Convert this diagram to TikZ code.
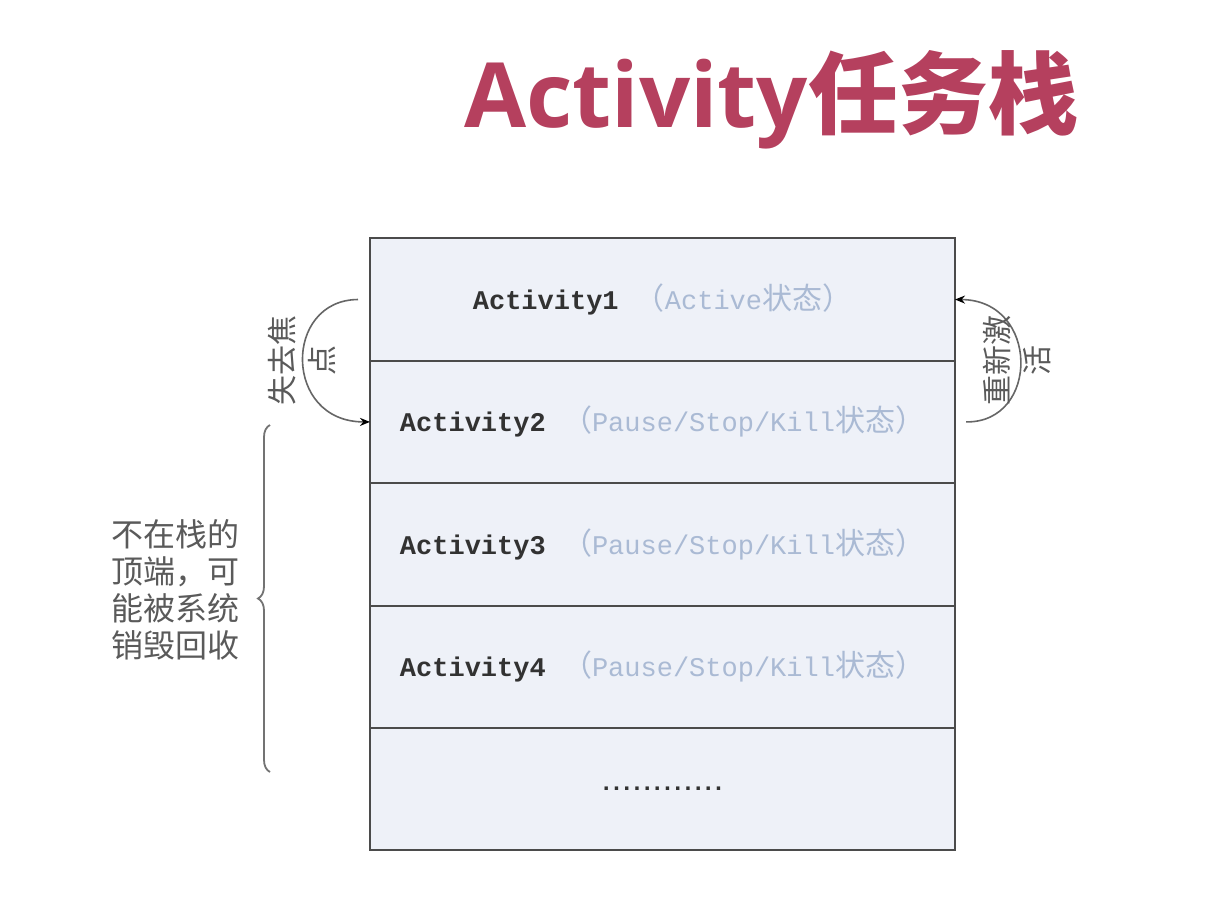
\documentclass[tikz,border=0pt]{standalone}
\usepackage{fontspec}
\usetikzlibrary{arrows.meta,decorations.pathreplacing}
\newfontfamily\cjk{Noto Sans CJK SC}
\newfontfamily\monofnt{Liberation Mono}
\newfontfamily\titlelatin{Open Sans}
\definecolor{titlered}{RGB}{181,64,94}
\definecolor{rowfill}{RGB}{238,241,248}
\definecolor{rowline}{RGB}{75,75,75}
\definecolor{statecol}{RGB}{170,186,212}
\definecolor{namecol}{RGB}{50,50,50}
\definecolor{notecol}{RGB}{90,90,90}
\newcommand{\statetext}[1]{\textcolor{statecol}{{\cjk\fontsize{30}{32}\selectfont （}#1{\cjk\fontsize{30}{32}\selectfont 状态）}}}
\newcommand{\onedot}{\makebox[10.2pt]{.}}
\newcommand{\dotrow}{\onedot\onedot\onedot\onedot\onedot\onedot\onedot\onedot\onedot\onedot\onedot\onedot}
\begin{document}
\begin{tikzpicture}[x=1pt,y=-1pt,
  stackrow/.style={draw=rowline,line width=2pt,fill=rowfill,minimum width=585pt,minimum height=122.4pt,
    inner sep=0pt,outer sep=0pt,font=\fontsize{27}{32}\selectfont\monofnt},
  turnarc/.style={draw=black!60,line width=1.6pt,-{Stealth[length=10pt,width=8pt,color=black]}},
  sidenote/.style={text=notecol,font=\cjk\fontsize{30}{40}\selectfont,rotate=90,align=center,inner sep=0pt},
  leftnote/.style={text=notecol,font=\cjk\fontsize{32}{37}\selectfont,align=left,inner sep=0pt},
  groupbrace/.style={draw=black!55,line width=1.8pt,decorate,decoration={brace,amplitude=12pt}}]
\useasboundingbox[fill=white] (0,0) rectangle (1214,914);

% title
\node[anchor=base west,inner sep=0pt,text=titlered] (title) at (464,127)
  {\fontsize{90}{98}\selectfont{\titlelatin\bfseries Activity}{\cjk\bfseries 任务栈}};

% the stack of activities
\node[stackrow] (r1) at (662.5,299.5) {\textcolor{namecol}{\bfseries Activity1} \statetext{Active}};
\node[stackrow,anchor=north] (r2) at (r1.south) {\textcolor{namecol}{\bfseries Activity2} \statetext{Pause/Stop/Kill}};
\node[stackrow,anchor=north] (r3) at (r2.south) {\textcolor{namecol}{\bfseries Activity3} \statetext{Pause/Stop/Kill}};
\node[stackrow,anchor=north] (r4) at (r3.south) {\textcolor{namecol}{\bfseries Activity4} \statetext{Pause/Stop/Kill}};
\node[stackrow,anchor=north] (r5) at (r4.south) {};
\node[inner sep=0pt,text=namecol,font=\fontsize{24}{24}\selectfont\monofnt\bfseries] (dots) at (r5.center) {\dotrow};

% lose focus: top activity moves down
\coordinate (lossstart) at ([xshift=-12pt]r1.west);
\draw[turnarc] (lossstart) .. controls (283,300) and (283,422) .. (r2.west);
\node[sidenote] (losslabel) at (302,360) {失去焦\\点};

% reactivate: activity comes back to the top
\coordinate (backstart) at ([xshift=11pt]r2.east);
\draw[turnarc] (backstart) .. controls (1040,423) and (1040,300) .. (r1.east);
\node[sidenote] (backlabel) at (1017,360) {重新激\\活};

% brace over the lower activities
\coordinate (bracelow) at (270,772);
\coordinate (bracehigh) at (270,425);
\draw[groupbrace] (bracelow) -- (bracehigh);
\node[leftnote] (bracenote) at (175,590) {不在栈的\\顶端，可\\能被系统\\销毁回收};
\end{tikzpicture}
\end{document}
